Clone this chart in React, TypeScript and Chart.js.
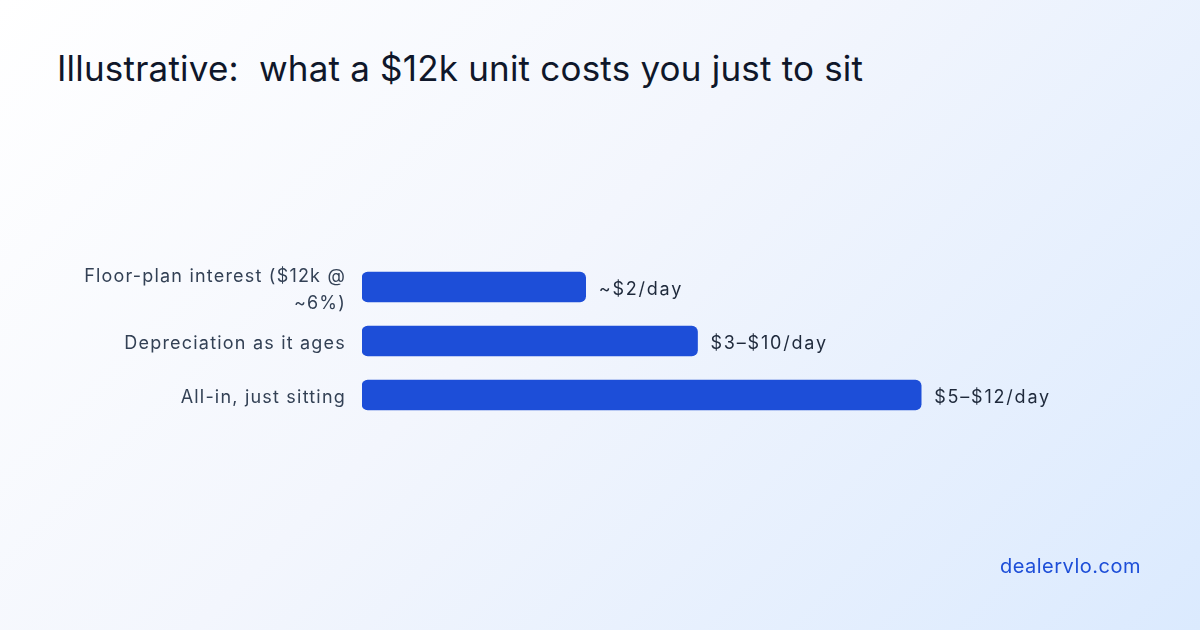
import React, { useEffect, useRef } from 'react';
import { Chart, registerables } from 'chart.js';

Chart.register(...registerables);

const categories: (string | string[])[] = [
  ['Floor-plan interest ($12k @', '~6%)'],
  'Depreciation as it ages',
  'All-in, just sitting',
];
// bar lengths follow the low end of each range ($/day)
const lowEstimates = [2, 3, 5];
const valueLabels = ['~$2/day', '$3–$10/day', '$5–$12/day'];

const FONT = 'Inter, "Noto Sans", sans-serif';
const SPACING = '1.2px';

// wider tracking for all canvas text, set before measuring and before drawing
const trackingPlugin = {
  id: 'tracking',
  beforeLayout(chart: Chart) { (chart.ctx as any).letterSpacing = SPACING; },
  beforeDraw(chart: Chart) { (chart.ctx as any).letterSpacing = SPACING; },
};

const valueLabelPlugin = {
  id: 'valueLabels',
  afterDatasetsDraw(chart: Chart) {
    const ctx = chart.ctx;
    const meta = chart.getDatasetMeta(0);
    ctx.save();
    (ctx as any).letterSpacing = '1.8px';
    ctx.font = `400 18px ${FONT}`;
    ctx.fillStyle = '#1e293b';
    ctx.textAlign = 'left';
    ctx.textBaseline = 'middle';
    meta.data.forEach((bar: any, i: number) => {
      ctx.fillText(valueLabels[i], bar.x + 13, bar.y + 3);
    });
    ctx.restore();
  },
};

const App: React.FC = () => {
  const canvasRef = useRef<HTMLCanvasElement | null>(null);
  const chartRef = useRef<Chart | null>(null);

  useEffect(() => {
    if (!canvasRef.current) return;
    chartRef.current = new Chart(canvasRef.current, {
      type: 'bar',
      data: {
        labels: categories,
        datasets: [{
          data: lowEstimates,
          backgroundColor: '#1d4ed8',
          borderRadius: 6,
          borderSkipped: false,
          barThickness: 30,
        }],
      },
      options: {
        indexAxis: 'y',
        animation: false,
        responsive: true,
        maintainAspectRatio: false,
        layout: { padding: { top: 260, bottom: 208, left: 0, right: 167 } },
        plugins: {
          legend: { display: false },
          tooltip: { enabled: false },
        },
        scales: {
          x: { display: false, min: 0, max: 6 },
          y: {
            grid: { display: false },
            border: { display: false },
            afterFit: (scale: any) => { scale.width = 362; },
            ticks: {
              autoSkip: false,
              padding: 8,
              labelOffset: 3,
              color: '#334155',
              font: { family: FONT, size: 18, lineHeight: 1.5 },
            },
          },
        },
      },
      plugins: [trackingPlugin, valueLabelPlugin],
    });
    return () => {
      chartRef.current?.destroy();
      chartRef.current = null;
    };
  }, []);

  return (
    <div style={{
      position: 'absolute', left: 0, top: 0, width: 1200, height: 630, overflow: 'hidden',
      background: 'linear-gradient(135deg, #ffffff 0%, #f3f6fd 45%, #dbeafe 100%)',
      fontFamily: FONT,
    }}>
      <div style={{
        position: 'absolute', left: 57, top: 51, fontSize: 35, lineHeight: 1,
        fontWeight: 400, color: '#0f172a', whiteSpace: 'pre', letterSpacing: 0.2,
      }}>
        {'Illustrative:  what a $12k unit costs you just to sit'}
      </div>
      <div style={{ position: 'absolute', left: 0, top: 0, width: 1200, height: 630 }}>
        <canvas ref={canvasRef} />
      </div>
      <div style={{
        position: 'absolute', right: 59, top: 556, fontSize: 20, lineHeight: 1,
        color: '#1d4ed8', whiteSpace: 'nowrap', letterSpacing: 0.5,
      }}>
        dealervlo.com
      </div>
    </div>
  );
};

export default App;
